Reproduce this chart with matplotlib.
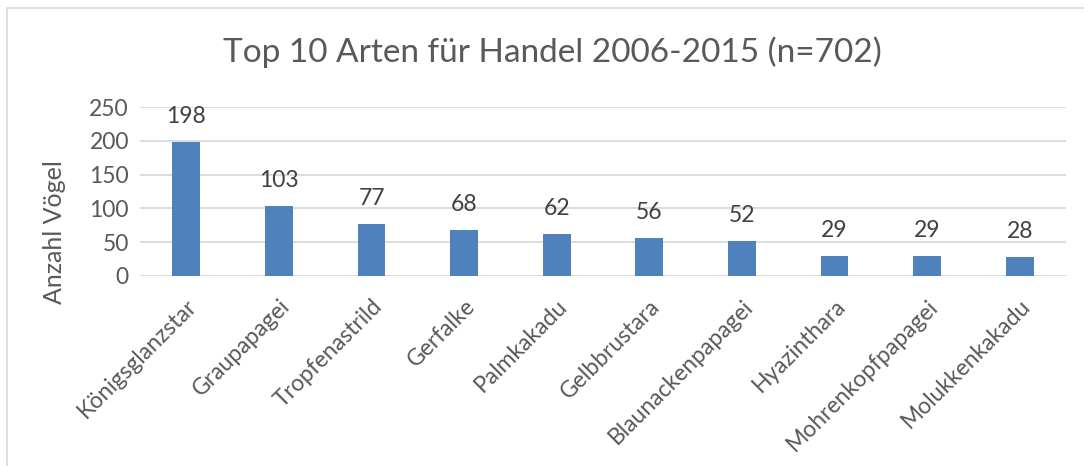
import matplotlib.pyplot as plt
from matplotlib.patches import Rectangle

# species and counts
arten = ['Königsglanzstar', 'Graupapagei', 'Tropfenastrild', 'Gerfalke', 'Palmkakadu',
         'Gelbbrustara', 'Blaunackenpapagei', 'Hyazinthara', 'Mohrenkopfpapagei', 'Molukkenkakadu']
anzahl = [198, 103, 77, 68, 62, 56, 52, 29, 29, 28]
y_ticks = [0, 50, 100, 150, 200, 250]

text_col = '#595959'
plt.rcParams['font.family'] = ['Lato', 'DejaVu Sans']

fig = plt.figure(figsize=(10.84, 4.66), dpi=100)
ax = fig.add_axes([140 / 1084, 1 - 276 / 466, 926 / 1084, 169 / 466])

x = range(len(arten))
ax.bar(x, anzahl, width=0.30, color='#4F81BD', zorder=3)
for i, v in zip(x, anzahl):
    ax.annotate(str(v), (i, v), xytext=(0, 11), textcoords='offset points',
                ha='center', va='bottom', fontsize=16.5, color='#404040')

ax.set_xlim(-0.5, len(arten) - 0.5)
ax.set_ylim(0, 250)
ax.set_yticks(y_ticks)
ax.yaxis.grid(True, color='#D9D9D9', linewidth=1.3, zorder=0)
ax.set_xticks(list(x))
ax.set_xticklabels(arten, rotation=45, ha='right', rotation_mode='anchor',
                   fontsize=16.5, color=text_col)
ax.tick_params(axis='y', labelsize=16.5, labelcolor=text_col, length=0, pad=8)
ax.tick_params(axis='x', length=0, pad=14)
for s in ax.spines.values():
    s.set_visible(False)
ax.axhline(0, color='#D9D9D9', linewidth=1.3, zorder=2)

fig.text(55 / 1084, 1 - 232 / 466, 'Anzahl Vögel', rotation=90, ha='center', va='center',
         fontsize=18, color=text_col)
fig.text(552 / 1084, 1 - 52 / 466, 'Top 10 Arten für Handel 2006-2015 (n=702)',
         ha='center', va='center', fontsize=24, color=text_col)

# outer chart frame
fig.patches.append(Rectangle((7 / 1084, -0.1), 1.2, 1 - 8 / 466 + 0.1, transform=fig.transFigure,
                             fill=False, edgecolor='#D9D9D9', linewidth=1.2))

fig.savefig('out.png', dpi=100)
